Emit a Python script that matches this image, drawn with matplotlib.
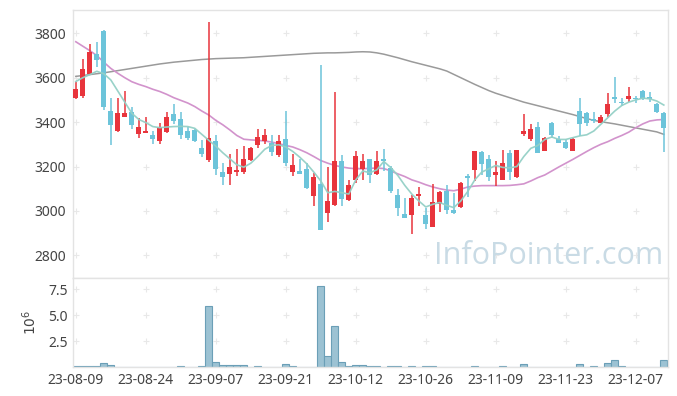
import numpy as np
import matplotlib
matplotlib.use('Agg')
import matplotlib.pyplot as plt

plt.rcParams['font.family'] = ['Noto Sans', 'DejaVu Sans']

# daily candles (index = trading day)
opens = [3510, 3518, 3618, 3705, 3812, 3449, 3358, 3425, 3444, 3347,
         3351, 3344, 3315, 3356, 3436, 3412, 3359, 3364, 3282, 3229,
         3314, 3177, 3165, 3176, 3177, 3230, 3297, 3315, 3308, 3253,
         3323, 3174, 3181, 3191, 3067, 3123, 2992, 3029, 3223, 3049,
         3141, 3188, 3232, 3165, 3232, 3192, 3073, 2985, 2983, 3068,
         2980, 2929, 3030, 3091, 3005, 3020, 3158, 3186, 3267, 3236,
         3160, 3141, 3259, 3155, 3347, 3323, 3377, 3271, 3397, 3324,
         3310, 3271, 3450, 3442, 3412, 3397, 3436, 3512, 3492, 3503,
         3508, 3541, 3512, 3480, 3439]
highs = [3580, 3685, 3751, 3762, 3815, 3508, 3508, 3540, 3470, 3417,
         3421, 3361, 3394, 3447, 3480, 3444, 3379, 3368, 3318, 3852,
         3340, 3218, 3258, 3280, 3291, 3288, 3368, 3368, 3340, 3344,
         3450, 3255, 3232, 3215, 3173, 3659, 3197, 3535, 3253, 3141,
         3268, 3258, 3235, 3271, 3280, 3201, 3097, 3058, 3070, 3106,
         3015, 3120, 3088, 3115, 3080, 3130, 3168, 3270, 3268, 3250,
         3226, 3276, 3276, 3275, 3436, 3390, 3400, 3335, 3399, 3336,
         3323, 3330, 3508, 3445, 3444, 3430, 3533, 3603, 3508, 3560,
         3518, 3545, 3535, 3485, 3445]
lows = [3505, 3510, 3612, 3650, 3455, 3295, 3355, 3422, 3367, 3330,
        3350, 3303, 3303, 3349, 3390, 3326, 3318, 3310, 3242, 3222,
        3164, 3118, 3118, 3159, 3168, 3224, 3285, 3300, 3247, 3245,
        3201, 3158, 3165, 3100, 3023, 2912, 2951, 3023, 3023, 3047,
        3126, 3141, 3126, 3163, 3182, 3083, 2979, 2968, 2894, 3024,
        2917, 2927, 2995, 2985, 2985, 3012, 3061, 3136, 3164, 3136,
        3114, 3138, 3141, 3150, 3336, 3314, 3260, 3268, 3330, 3305,
        3279, 3270, 3336, 3382, 3395, 3395, 3424, 3485, 3474, 3492,
        3485, 3500, 3492, 3439, 3264]
closes = [3550, 3640, 3718, 3680, 3470, 3388, 3440, 3440, 3385, 3377,
          3359, 3324, 3377, 3423, 3406, 3342, 3329, 3315, 3256, 3327,
          3188, 3155, 3200, 3183, 3232, 3282, 3332, 3341, 3265, 3317,
          3217, 3208, 3167, 3103, 3155, 2915, 3044, 3223, 3056, 3117,
          3249, 3227, 3164, 3227, 3223, 3092, 3014, 2970, 3059, 3076,
          2942, 3040, 3085, 3003, 2990, 3127, 3150, 3268, 3210, 3151,
          3177, 3218, 3174, 3273, 3359, 3371, 3262, 3330, 3342, 3308,
          3283, 3326, 3390, 3394, 3405, 3421, 3482, 3506, 3488, 3518,
          3503, 3506, 3505, 3447, 3374]

# moving averages as drawn
ma_short = [3583, 3600, 3614, 3629, 3618, 3590, 3540, 3490, 3440, 3412,
            3398, 3380, 3375, 3378, 3380, 3381, 3380, 3372, 3345, 3318,
            3292, 3262, 3235, 3208, 3197, 3215, 3245, 3278, 3295, 3298,
            3288, 3268, 3242, 3212, 3175, 3135, 3082, 3088, 3082, 3076,
            3140, 3180, 3172, 3185, 3223, 3195, 3160, 3115, 3076, 3045,
            3018, 3030, 3038, 3025, 3015, 3045, 3088, 3140, 3175, 3190,
            3205, 3196, 3194, 3200, 3245, 3282, 3295, 3322, 3333, 3322,
            3322, 3330, 3338, 3343, 3360, 3390, 3420, 3450, 3475, 3490,
            3500, 3508, 3505, 3495, 3477]
ma_mid = [3762, 3742, 3722, 3700, 3670, 3642, 3620, 3600, 3582, 3570,
          3560, 3548, 3538, 3525, 3510, 3498, 3486, 3470, 3450, 3432,
          3408, 3388, 3365, 3340, 3323, 3320, 3318, 3315, 3310, 3303,
          3295, 3288, 3276, 3262, 3245, 3227, 3215, 3205, 3198, 3193,
          3190, 3190, 3192, 3193, 3191, 3180, 3167, 3155, 3140, 3130,
          3118, 3108, 3100, 3094, 3091, 3098, 3108, 3112, 3114, 3114,
          3114, 3114, 3115, 3118, 3122, 3135, 3150, 3162, 3180, 3198,
          3215, 3232, 3250, 3268, 3285, 3300, 3312, 3327, 3340, 3355,
          3375, 3392, 3405, 3410, 3412]
ma_long = [3606, 3610, 3614, 3618, 3622, 3627, 3632, 3637, 3642, 3647,
           3652, 3657, 3662, 3666, 3670, 3673, 3676, 3679, 3682, 3684,
           3686, 3687, 3688, 3689, 3690, 3692, 3694, 3696, 3698, 3700,
           3702, 3704, 3706, 3708, 3710, 3711, 3712, 3712, 3713, 3714,
           3716, 3717, 3716, 3712, 3706, 3698, 3690, 3681, 3672, 3664,
           3656, 3648, 3640, 3630, 3615, 3600, 3585, 3570, 3556, 3542,
           3530, 3520, 3510, 3500, 3490, 3482, 3474, 3466, 3458, 3450,
           3442, 3434, 3425, 3416, 3408, 3402, 3397, 3392, 3386, 3380,
           3374, 3368, 3362, 3356, 3345]

# volume in millions
volume = [0.05, 0.13, 0.13, 0.13, 0.42, 0.22, 0.03, 0.03, 0.03, 0.03,
          0.03, 0.03, 0.03, 0.03, 0.03, 0.13, 0.03, 0.03, 0.13, 5.83,
          0.51, 0.22, 0.16, 0.22, 0.22, 0.03, 0.13, 0.03, 0.03, 0.03,
          0.32, 0.13, 0.03, 0.03, 0.03, 7.76, 1.09, 3.97, 0.45, 0.13,
          0.22, 0.22, 0.13, 0.13, 0.03, 0.13, 0.13, 0.03, 0.13, 0.03,
          0.13, 0.13, 0.03, 0.03, 0.0, 0.03, 0.03, 0.13, 0.03, 0.03,
          0.03, 0.13, 0.03, 0.03, 0.32, 0.03, 0.03, 0.03, 0.03, 0.0,
          0.0, 0.03, 0.32, 0.03, 0.13, 0.03, 0.42, 0.64, 0.13, 0.03,
          0.03, 0.03, 0.03, 0.03, 0.64]

tick_labels = ['23-08-09', '23-08-24', '23-09-07', '23-09-21', '23-10-12',
               '23-10-26', '23-11-09', '23-11-23', '23-12-07']
price_ticks = [2800, 3000, 3200, 3400, 3600, 3800]
vol_ticks = [2.5, 5.0, 7.5]

UP = '#e8343c'
DOWN = '#6cc4da'
TXT = '#444444'
SPINE = '#e3e3e3'

o = np.array(opens)
c = np.array(closes)
idx = np.arange(len(o))
cols = [UP if cc >= oo else DOWN for oo, cc in zip(o, c)]
xt = np.arange(0, len(o), 10)

fig = plt.figure(figsize=(6.77, 3.96), dpi=100)
ax = fig.add_axes([73 / 677, 118 / 396, 595 / 677, 268 / 396])
ax2 = fig.add_axes([73 / 677, 29 / 396, 595 / 677, 89 / 396], sharex=ax)

# grid crosses
gx, gy = np.meshgrid(xt, price_ticks)
ax.scatter(gx.ravel(), gy.ravel(), marker='+', s=20, color='#e8e8e8', lw=0.8, zorder=0)
gx2, gy2 = np.meshgrid(xt, vol_ticks)
ax2.scatter(gx2.ravel(), gy2.ravel(), marker='+', s=20, color='#e8e8e8', lw=0.8, zorder=0)

ax.text(0.80, 0.082, 'InfoPointer.com', transform=ax.transAxes, ha='center', va='center',
        fontsize=22, color='#c9dbe5', family='Open Sans', zorder=1)

ax.plot(idx, ma_long, color='#9a9a9a', lw=1.1, zorder=2)
ax.plot(idx, ma_mid, color='#d293cc', lw=1.2, zorder=2)

ax.vlines(idx, lows, highs, colors=cols, lw=1.1, zorder=3)
body = np.maximum(np.abs(c - o), 2)
ax.bar(idx, body, bottom=np.minimum(o, c), width=0.7, color=cols, zorder=3)

ax.plot(idx, ma_short, color='#94d0c6', lw=1.2, alpha=0.95, zorder=4)

ax.set_xlim(-0.4, 84.6)
ax.set_ylim(2698, 3905)
ax.set_yticks(price_ticks)
ax.tick_params(axis='y', length=0, labelsize=10, colors=TXT, pad=5)
ax.tick_params(axis='x', length=0, labelbottom=False)

ax2.bar(idx, volume, width=1.0, color='#9cc2d3', edgecolor='#6b9fb7', lw=0.8)
ax2.set_ylim(0, 8.56)
ax2.set_yticks(vol_ticks)
ax2.set_yticklabels(['2.5', '5.0', '7.5'])
ax2.set_xticks(xt)
ax2.set_xticklabels(tick_labels)
ax2.tick_params(length=0, labelsize=10, colors=TXT, pad=4)
ax2.set_ylabel('$10^6$', fontsize=10, color=TXT, labelpad=6)

for a in (ax, ax2):
    for s in a.spines.values():
        s.set_color(SPINE)
        s.set_linewidth(1)

fig.savefig('out.png', dpi=100, facecolor='white')
